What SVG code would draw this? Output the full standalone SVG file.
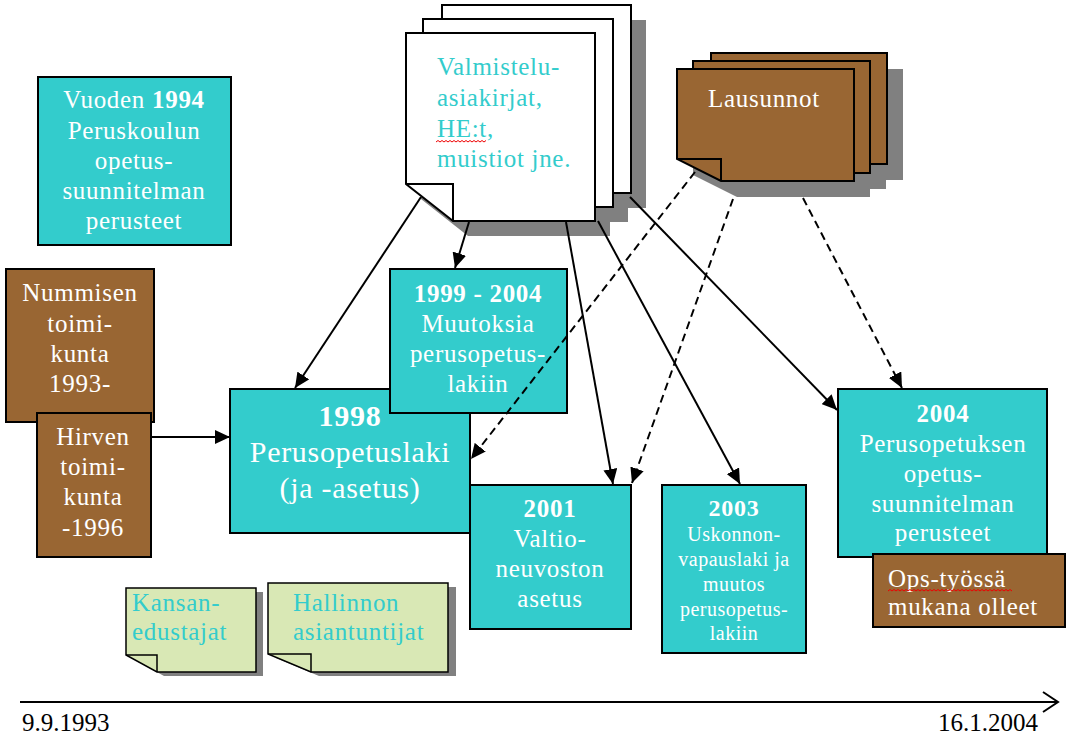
<svg xmlns="http://www.w3.org/2000/svg" width="1076" height="744" viewBox="0 0 1076 744">
<style>
.bx{stroke:#000;stroke-width:2}
.cy{fill:#33CCCC}
.br{fill:#996633}
.wh{fill:#fff}
.gn{fill:#D9E8B5}
.sh{fill:#808080;stroke:none}
.fold{fill:none;stroke:#000;stroke-width:2}
.t{font-family:"Liberation Serif","Times New Roman",serif;font-size:25px;letter-spacing:0.7px;fill:#fff;text-anchor:middle}
.l{text-anchor:start}
.c{fill:#33CCCC}
.b{font-weight:bold}
.s{font-size:20px;letter-spacing:0.5px}
.big{font-size:30px}
.k{fill:#000;letter-spacing:0}
.sq{fill:none;stroke:#e00;stroke-width:1}
.a{fill:none;stroke:#000;stroke-width:2}
.d{stroke-dasharray:8 5}
</style>
<defs>
<marker id="ah" markerUnits="userSpaceOnUse" markerWidth="16" markerHeight="14" refX="15" refY="7" orient="auto">
<path d="M0,0 L15,7 L0,14 z" fill="#000" stroke="none"/>
</marker>
</defs>
<rect width="1076" height="744" fill="#fff"/>

<g id="valmistelu">
<g class="sh" transform="translate(15,15)">
<path d="M442,5 H631 V193 H489 L442,156 Z"/>
<path d="M423,19 H613 V207 H470 L423,170 Z"/>
<path d="M406,33 H595 V221 H453 L406,184 Z"/>
</g>
<path class="bx wh" d="M442,5 H631 V193 H489 L442,156 Z"/>
<path class="fold" d="M442,156 H489 V193"/>
<path class="bx wh" d="M423,19 H613 V207 H470 L423,170 Z"/>
<path class="fold" d="M423,170 H470 V207"/>
<path class="bx wh" d="M406,33 H595 V221 H453 L406,184 Z"/>
<path class="fold" d="M406,184 H453 V221"/>
<text class="t l c" x="437" y="75">Valmistelu-</text>
<text class="t l c" x="437" y="106">asiakirjat,</text>
<text class="t l c" x="437" y="137">HE:t,</text>
<text class="t l c" x="437" y="167">muistiot jne.</text>
<path class="sq" d="M436,142 l2,-1.5 l2,1.5 l2,-1.5 l2,1.5 l2,-1.5 l2,1.5 l2,-1.5 l2,1.5 l2,-1.5 l2,1.5 l2,-1.5 l2,1.5 l2,-1.5 l2,1.5 l2,-1.5 l2,1.5 l2,-1.5 l2,1.5 l2,-1.5 l2,1.5 l2,-1.5 l2,1.5 l2,-1.5 l2,1.5 l2,-1.5"/>
</g>

<g id="lausunnot">
<g class="sh" transform="translate(16,16)">
<path d="M711,53 H887 V164 H755 L711,142 Z"/>
<path d="M693,61 H870 V173 H737 L693,151 Z"/>
<path d="M677,69 H854 V181 H721 L677,159 Z"/>
</g>
<path class="bx br" d="M711,53 H887 V164 H755 L711,142 Z"/>
<path class="fold" d="M711,142 H755 V164"/>
<path class="bx br" d="M693,61 H870 V173 H737 L693,151 Z"/>
<path class="fold" d="M693,151 H737 V173"/>
<path class="bx br" d="M677,69 H854 V181 H721 L677,159 Z"/>
<path class="fold" d="M677,159 H721 V181"/>
<text class="t" x="764" y="107">Lausunnot</text>
</g>

<g id="vuoden1994">
<rect class="bx cy" x="38" y="77" width="193" height="168"/>
<text class="t" x="134" y="108">Vuoden <tspan class="b">1994</tspan></text>
<text class="t" x="134" y="139">Peruskoulun</text>
<text class="t" x="134" y="169">opetus-</text>
<text class="t" x="134" y="199">suunnitelman</text>
<text class="t" x="134" y="229">perusteet</text>
</g>

<g id="nummisen">
<rect class="bx br" x="6" y="269" width="148" height="153"/>
<text class="t" x="80" y="301">Nummisen</text>
<text class="t" x="80" y="332">toimi-</text>
<text class="t" x="80" y="362">kunta</text>
<text class="t" x="80" y="392">1993-</text>
</g>

<g id="hirven">
<rect class="bx br" x="37" y="413" width="114" height="144"/>
<text class="t" x="93" y="445">Hirven</text>
<text class="t" x="93" y="475">toimi-</text>
<text class="t" x="93" y="505">kunta</text>
<text class="t" x="93" y="536">-1996</text>
</g>

<g id="p1998">
<rect class="bx cy" x="230" y="389" width="240" height="144"/>
<text class="t big b" x="350" y="426">1998</text>
<text class="t big" x="350" y="462">Perusopetuslaki</text>
<text class="t big" x="350" y="498">(ja -asetus)</text>
</g>

<g id="p1999">
<rect class="bx cy" x="390" y="269" width="177" height="144"/>
<text class="t b" x="478" y="302">1999 - 2004</text>
<text class="t" x="478" y="332">Muutoksia</text>
<text class="t" x="478" y="362">perusopetus-</text>
<text class="t" x="478" y="392">lakiin</text>
</g>

<g id="p2001">
<rect class="bx cy" x="470" y="485" width="161" height="144"/>
<text class="t b" x="550" y="517">2001</text>
<text class="t" x="550" y="547">Valtio-</text>
<text class="t" x="550" y="577">neuvoston</text>
<text class="t" x="550" y="607">asetus</text>
</g>

<g id="p2003">
<rect class="bx cy" x="662" y="485" width="144" height="168"/>
<text class="t b" x="734" y="516" style="font-size:24px">2003</text>
<text class="t s" x="734" y="541">Uskonnon-</text>
<text class="t s" x="734" y="566">vapauslaki ja</text>
<text class="t s" x="734" y="591">muutos</text>
<text class="t s" x="734" y="616">perusopetus-</text>
<text class="t s" x="734" y="640">lakiin</text>
</g>

<g id="p2004">
<rect class="bx cy" x="838" y="389" width="209" height="168"/>
<text class="t b" x="943" y="422">2004</text>
<text class="t" x="943" y="452">Perusopetuksen</text>
<text class="t" x="943" y="482">opetus-</text>
<text class="t" x="943" y="512">suunnitelman</text>
<text class="t" x="943" y="541">perusteet</text>
</g>

<g id="ops">
<rect class="bx br" x="873" y="554" width="192" height="73"/>
<text class="t l" x="888" y="587">Ops-työssä</text>
<text class="t l" x="888" y="615">mukana olleet</text>
<path class="sq" d="M888,591 l2,-1.5 l2,1.5 l2,-1.5 l2,1.5 l2,-1.5 l2,1.5 l2,-1.5 l2,1.5 l2,-1.5 l2,1.5 l2,-1.5 l2,1.5 l2,-1.5 l2,1.5 l2,-1.5 l2,1.5 l2,-1.5 l2,1.5 l2,-1.5 l2,1.5 l2,-1.5 l2,1.5 l2,-1.5 l2,1.5 l2,-1.5 l2,1.5 l2,-1.5 l2,1.5 l2,-1.5 l2,1.5 l2,-1.5 l2,1.5 l2,-1.5 l2,1.5 l2,-1.5 l2,1.5 l2,-1.5 l2,1.5 l2,-1.5 l2,1.5 l2,-1.5 l2,1.5 l2,-1.5 l2,1.5 l2,-1.5 l2,1.5 l2,-1.5 l2,1.5 l2,-1.5 l2,1.5 l2,-1.5 l2,1.5 l2,-1.5 l2,1.5 l2,-1.5 l2,1.5 l2,-1.5 l2,1.5 l2,-1.5 l2,1.5 l2,-1.5 l2,1.5"/>
</g>

<g id="kansanedustajat">
<path class="sh" transform="translate(7,4)" d="M126,588 H256 V672 H157 L126,655 Z"/>
<path class="gn" stroke="#000" stroke-width="1.5" d="M126,588 H256 V672 H157 L126,655 Z"/>
<path class="fold" style="stroke-width:1.5" d="M126,655 H157 V672"/>
<text class="t l c" x="132" y="611">Kansan-</text>
<text class="t l c" x="132" y="640">edustajat</text>
</g>

<g id="hallinnon">
<path class="sh" transform="translate(8,4)" d="M268,583 H448 V672 H311 L268,654 Z"/>
<path class="gn" stroke="#000" stroke-width="1.5" d="M268,583 H448 V672 H311 L268,654 Z"/>
<path class="fold" style="stroke-width:1.5" d="M268,654 H311 V672"/>
<text class="t l c" x="293" y="611">Hallinnon</text>
<text class="t l c" x="293" y="640">asiantuntijat</text>
</g>

<g id="connectors">
<line class="a" x1="151" y1="437" x2="230" y2="437" marker-end="url(#ah)"/>
<line class="a" x1="421" y1="197" x2="295" y2="388" marker-end="url(#ah)"/>
<line class="a" x1="469" y1="222" x2="455" y2="268" marker-end="url(#ah)"/>
<line class="a" x1="566" y1="222" x2="613" y2="484" marker-end="url(#ah)"/>
<line class="a" x1="598" y1="221" x2="740" y2="484" marker-end="url(#ah)"/>
<line class="a" x1="630" y1="197" x2="837" y2="410" marker-end="url(#ah)"/>
<line class="a d" x1="695" y1="172" x2="471" y2="459" marker-end="url(#ah)"/>
<line class="a d" x1="733" y1="199" x2="632" y2="483" marker-end="url(#ah)"/>
<line class="a d" x1="803" y1="198" x2="902" y2="388" marker-end="url(#ah)"/>
</g>

<g id="timeline">
<line class="a" x1="20" y1="702" x2="1057" y2="702"/>
<path class="a" d="M1043,692 L1058,702 L1043,712"/>
<text class="t l k" x="22" y="731">9.9.1993</text>
<text class="t k" x="1038" y="731" style="text-anchor:end">16.1.2004</text>
</g>
</svg>
